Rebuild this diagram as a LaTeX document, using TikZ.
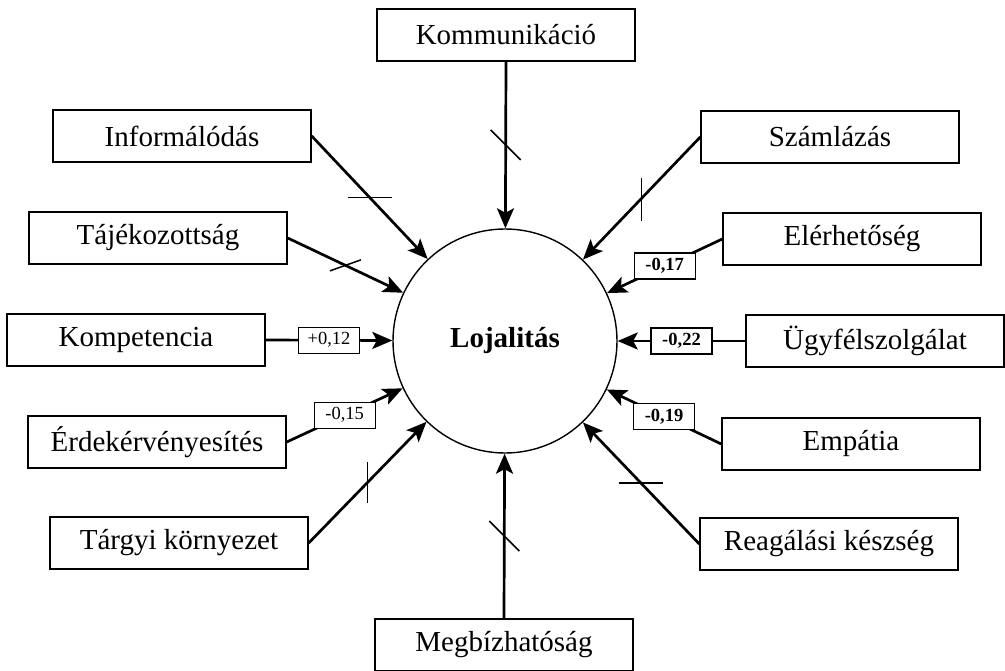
\documentclass[tikz,border=0pt]{standalone}
\usepackage{fontspec}
\setmainfont{Liberation Serif}
\usetikzlibrary{arrows.meta,calc}
\begin{document}
\begin{tikzpicture}[x=1pt,y=-1pt,
  box/.style={draw, line width=1.4pt, minimum width=258pt, minimum height=52pt, inner sep=0pt, font=\fontsize{29}{32}\selectfont},
  lab/.style={draw, fill=white, line width=1.2pt, minimum width=61pt, minimum height=26pt, inner sep=0pt, font=\fontsize{18.5}{20}\selectfont},
  blab/.style={lab, font=\bfseries\fontsize{18.5}{20}\selectfont},
  conn/.style={line width=2.7pt, -{Stealth[length=20pt,width=17pt,inset=4.5pt]}},
  tickmark/.style={line width=1.5pt}]
\useasboundingbox (0,0) rectangle (1005,671);
\node[circle, draw, line width=1.4pt, minimum size=224pt, inner sep=0pt, font=\bfseries\fontsize{29}{32}\selectfont] (L) at (505,341) {Lojalitás};

\node[box] (kom)   at (506,35)  {Kommunikáció};
\node[box] (inf)   at (182,136) {Informálódás};
\node[box] (taj)   at (158,238) {Tájékozottság};
\node[box] (komp)  at (136,340) {Kompetencia};
\node[box] (erd)   at (157,442) {Érdekérvényesítés};
\node[box] (targy) at (179,543) {Tárgyi környezet};
\node[box] (meg)   at (504,645) {Megbízhatóság};
\node[box] (szam)  at (830,137) {Számlázás};
\node[box] (eler)  at (852,239) {Elérhetőség};
\node[box] (ugy)   at (875,341) {Ügyfélszolgálat};
\node[box] (emp)   at (851,444) {Empátia};
\node[box] (rea)   at (829,544) {Reagálási készség};

\draw[conn] (kom.south) -- coordinate[midway] (t1) (L);
\draw[tickmark] ($(t1)+(-15,-15)$) -- ($(t1)+(15,15)$);
\draw[conn] (inf.east) -- coordinate[midway] (t2) (L);
\draw[tickmark] ($(t2)+(-22,0)$) -- ($(t2)+(22,0)$);
\draw[conn] (taj.east) -- coordinate[midway] (t3) (L);
\draw[tickmark] ($(t3)+(-15.5,5.5)$) -- ($(t3)+(15.5,-5.5)$);
\draw[conn] (komp.east) -- node[lab] {+0,12} (L);
\draw[conn] (erd.east) -- node[lab] {-0,15} (L);
\draw[conn] (targy.east) -- coordinate[midway] (t4) (L);
\draw[tickmark] ($(t4)+(0,-20.5)$) -- ($(t4)+(0,20.5)$);
\draw[conn] (meg.north) -- coordinate[midway] (t5) (L);
\draw[tickmark] ($(t5)+(-15,-15)$) -- ($(t5)+(15,15)$);
\draw[conn] (szam.west) -- coordinate[midway] (t6) (L);
\draw[tickmark] ($(t6)+(0,-20)$) -- ($(t6)+(0,23)$);
\draw[conn] (eler.west) -- node[blab] {-0,17} (L);
\draw[conn] (ugy.west) -- node[blab] {-0,22} (L);
\draw[conn] (emp.west) -- node[blab] {-0,19} (L);
\draw[conn] (rea.west) -- coordinate[midway] (t7) (L);
\draw[tickmark] ($(t7)+(-22,0)$) -- ($(t7)+(22,0)$);
\end{tikzpicture}
\end{document}
